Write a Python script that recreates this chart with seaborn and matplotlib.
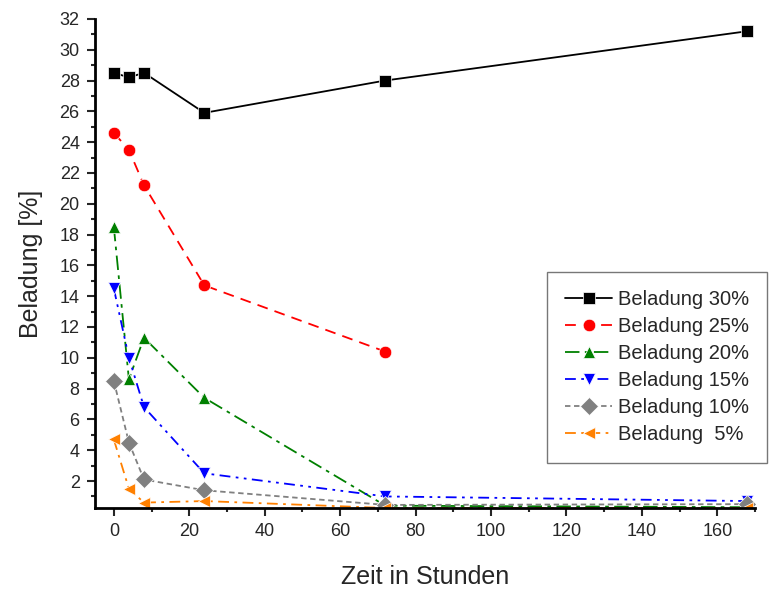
import pandas as pd
import matplotlib.pyplot as plt
import seaborn as sns
from matplotlib.ticker import MultipleLocator

# Werte
zeit = [0, 4, 8, 24, 72, 168]
beladung_30 = [28.5, 28.2, 28.5, 25.9, 28.0, 31.2]
beladung_25 = [24.6, 23.5, 21.2, 14.7, 10.4, None]
beladung_20 = [18.5, 8.6, 11.3, 7.4, 0.4, 0.3]
beladung_15 = [14.5, 10.0, 6.8, 2.5, 1.0, 0.7]
beladung_10 = [8.5, 4.5, 2.1, 1.4, 0.45, 0.5]
beladung_5 = [4.7, 1.5, 0.6, 0.7, 0.25, 0.25]

series_names = ['Beladung 30%', 'Beladung 25%', 'Beladung 20%',
                'Beladung 15%', 'Beladung 10%', 'Beladung  5%']
series_values = [beladung_30, beladung_25, beladung_20,
                 beladung_15, beladung_10, beladung_5]

rows = []
for name, vals in zip(series_names, series_values):
    for t, v in zip(zeit, vals):
        if v is not None:
            rows.append({'Zeit': t, 'Beladung': v, 'Serie': name})
df = pd.DataFrame(rows)

colors = ['black', '#ff0000', '#008000', '#0000ff', '#808080', '#ff8000']
markers = ['s', 'o', '^', 'v', 'D', '<']
dashes = ['', (6, 4), (8, 3, 2, 3), (6, 3, 1.5, 3, 1.5, 3), (3, 2), (6, 3, 1.5, 3)]

sns.set_style('white')
plt.rcParams['font.family'] = ['Liberation Sans', 'DejaVu Sans']

fig = plt.figure(figsize=(7.72, 5.90), dpi=100)
ax = fig.add_axes([0.123, 0.139, 0.855, 0.829])

sns.lineplot(data=df, x='Zeit', y='Beladung', hue='Serie', style='Serie',
             hue_order=series_names, style_order=series_names,
             palette=dict(zip(series_names, colors)),
             markers=dict(zip(series_names, markers)),
             dashes=dict(zip(series_names, dashes)),
             markersize=9, linewidth=1.3, markeredgewidth=0.5,
             ax=ax, legend='full')

ax.set_xlim(-5, 170)
ax.set_ylim(0.25, 32)
ax.xaxis.set_major_locator(MultipleLocator(20))
ax.xaxis.set_minor_locator(MultipleLocator(10))
ax.set_yticks(range(2, 33, 2))
ax.yaxis.set_minor_locator(MultipleLocator(1))
ax.tick_params(which='major', direction='out', length=6, width=1.5, labelsize=13,
               left=True, bottom=True, pad=5)
ax.tick_params(which='minor', direction='out', length=3, width=1.5,
               left=True, bottom=True)
for s in ['top', 'right']:
    ax.spines[s].set_visible(False)
for s in ['left', 'bottom']:
    ax.spines[s].set_linewidth(2)
    ax.spines[s].set_color('black')

ax.set_xlabel('Zeit in Stunden', fontsize=18, labelpad=18)
ax.set_ylabel('Beladung [%]', fontsize=18, labelpad=12)

handles, labels = ax.get_legend_handles_labels()
ax.get_legend().remove()
leg = fig.legend(handles, labels, loc='upper left', bbox_to_anchor=(0.709, 0.539),
                 fontsize=14.5, frameon=True, fancybox=False, edgecolor='#555555',
                 borderpad=0.9, labelspacing=0.4, handlelength=2.3, handletextpad=0.3,
                 borderaxespad=0)
leg.get_frame().set_linewidth(1.0)

fig.savefig('out.png', dpi=100)
